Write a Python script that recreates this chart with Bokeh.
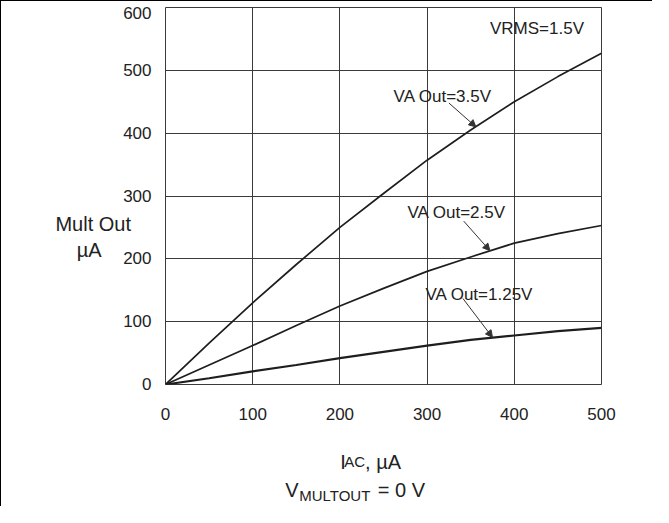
from bokeh.plotting import figure
from bokeh.models import Range1d, FixedTicker, Label, Arrow, NormalHead, ColumnDataSource
from bokeh.core.properties import value
from bokeh.embed import file_html
from bokeh.resources import INLINE

# ---- data ----
iac = [0, 50, 100, 150, 200, 250, 300, 350, 400, 450, 500]           # IAC, uA
out_va_35 = [0, 66, 130, 191, 250, 304, 357, 405, 450, 490, 527]     # Mult Out, uA
out_va_25 = [0, 31, 62, 94, 125, 153, 180, 203, 225, 240, 253]
out_va_125 = [0, 10, 21, 31, 42, 52, 62, 71, 78, 85, 90]

x_ticks = [0, 100, 200, 300, 400, 500]
y_ticks = [0, 100, 200, 300, 400, 500, 600]

curve_labels = ["VA Out=3.5V", "VA Out=2.5V", "VA Out=1.25V"]
curve_label_x = [318, 334, 360]
curve_label_y = [458, 274, 144]
arrow_x0 = [325, 342, 341]
arrow_y0 = [448, 260, 137]
arrow_x1 = [356, 372, 375]
arrow_y1 = [410, 213, 75]

vrms_label = "VRMS=1.5V"
vrms_x = [426]
vrms_y = [567]

INK = "#1e1e1e"
TXT = "#222222"
GRID = "#3a3a3a"
FONT = "Liberation Sans"

W, H = 652, 506

p = figure(width=W, height=H, output_backend="svg", toolbar_location=None,
           x_range=Range1d(0, 500), y_range=Range1d(0, 600),
           min_border_left=164, min_border_right=W - 164 - 436,
           min_border_top=6, min_border_bottom=H - 6 - 377)
# outer frame of the original figure (left and top edges)
p.styles = {"border-left": "1px solid #000", "border-top": "1px solid #000"}

p.outline_line_color = GRID
p.outline_line_width = 1
p.background_fill_color = "white"
p.border_fill_color = "white"

for ax, ticks in ((p.xaxis[0], x_ticks), (p.yaxis[0], y_ticks)):
    ax.ticker = FixedTicker(ticks=ticks)
    ax.axis_line_color = None
    ax.major_tick_line_color = None
    ax.minor_tick_line_color = None
    ax.major_label_text_font = FONT
    ax.major_label_text_font_size = "17px"
    ax.major_label_text_color = TXT
p.xaxis.major_label_standoff = 17
p.yaxis.major_label_standoff = 8
# the top tick label sits a little below its grid line in the original
p.yaxis.major_label_overrides = {600: "\n600"}
p.yaxis.major_label_text_line_height = 0.15

p.xgrid.ticker = FixedTicker(ticks=x_ticks)
p.ygrid.ticker = FixedTicker(ticks=y_ticks)
for g in (p.xgrid[0], p.ygrid[0]):
    g.grid_line_color = GRID
    g.grid_line_width = 1

src = ColumnDataSource(dict(x=iac, a=out_va_35, b=out_va_25, c=out_va_125))
p.line("x", "a", source=src, line_color=INK, line_width=1.7)
p.line("x", "b", source=src, line_color=INK, line_width=1.7)
p.line("x", "c", source=src, line_color=INK, line_width=2.2)

lab_src = ColumnDataSource(dict(x=curve_label_x + vrms_x, y=curve_label_y + vrms_y,
                                t=curve_labels + [vrms_label]))
p.text("x", "y", text="t", source=lab_src, text_font=value(FONT), text_font_size="17px",
       text_color=TXT, text_align="center", text_baseline="middle")

for xs, ys, xe, ye in zip(arrow_x0, arrow_y0, arrow_x1, arrow_y1):
    p.add_layout(Arrow(end=NormalHead(size=7, fill_color="#333333", line_color="#333333", line_width=1),
                       x_start=xs, y_start=ys, x_end=xe, y_end=ye,
                       line_color="#333333", line_width=1))


# texts outside the frame: labels placed in the side panels (so they are not
# clipped to the frame) but positioned in data units
def outside(place, x, y, text, size, align="left", baseline="alphabetic"):
    p.add_layout(Label(x=x, y=y, text=text, text_font=FONT, text_font_size=size,
                       text_color=TXT, text_align=align, text_baseline=baseline), place)


# y axis title (horizontal, two lines)
outside("left", -82.9, 254.7, "Mult Out", "20px", "center", "middle")
outside("left", -87.5, 213.3, "µA", "20px", "center", "middle")
# x axis title: I(AC), uA
outside("left", 200.3, -123, "I", "20px")
outside("below", 204.9, -123, "AC", "15px")
outside("below", 228.8, -123, ", µA", "20px")
# condition: V(MULTOUT) = 0 V
outside("below", 137.3, -168.2, "V", "20px")
outside("below", 153.3, -177.1, "MULTOUT", "15px")
outside("right", 270.6, -168.2, "= 0 V", "20px", "center")

open("out.html", "w").write(file_html(p, INLINE))
